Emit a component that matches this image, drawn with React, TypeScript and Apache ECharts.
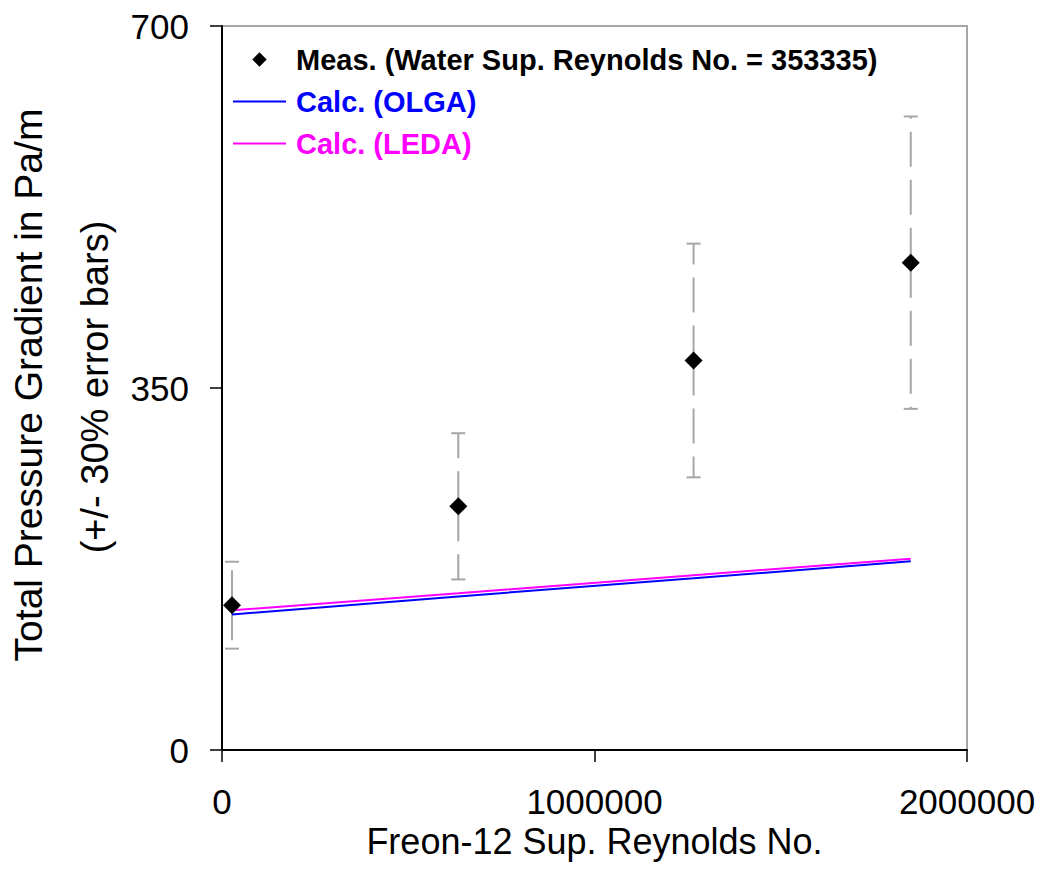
import { useEffect, useRef } from "react";
import * as echarts from "echarts";

// Freon-12 superficial Reynolds numbers of the measured / calculated cases
const reynoldsFreon = [26900, 634400, 1266000, 1849000];
// Measured total pressure gradient (Pa/m)
const measured = [140, 235.6, 376.6, 471.2];
// Calculated pressure gradient (Pa/m)
const calcOlga = [131, 148.5, 166, 182.5];
const calcLeda = [135, 151.5, 169, 185];
// Relative size of the error bars
const errorFraction = 0.3;

const xAxisMax = 2000000;
const xAxisStep = 1000000;
const yAxisMax = 700;
const yAxisStep = 350;

const seriesNames = [
  "Meas. (Water Sup. Reynolds No. = 353335)",
  "Calc. (OLGA)",
  "Calc. (LEDA)",
];
const xTitle = "Freon-12 Sup. Reynolds No.";
const yTitleLines = ["Total Pressure Gradient in Pa/m", "(+/- 30% error bars)"];

const FONT = "'Liberation Sans', Arial, Helvetica, sans-serif";
const ERR_COLOR = "#a6a6a6";

export default function App() {
  const ref = useRef<HTMLDivElement>(null);

  useEffect(() => {
    if (!ref.current) return;
    const chart = echarts.init(ref.current, undefined, { renderer: "svg" });

    const pairs = (ys: number[]) => reynoldsFreon.map((x, i) => [x, ys[i]]);

    const option: any = {
      animation: false,
      backgroundColor: "#ffffff",
      grid: {
        left: 222,
        right: 83,
        top: 26,
        bottom: 138,
        show: true,
        borderColor: ERR_COLOR,
        borderWidth: 2,
        backgroundColor: "transparent",
      },
      legend: {
        orient: "vertical",
        left: 232,
        top: 45,
        padding: 0,
        itemWidth: 53,
        itemHeight: 18,
        itemGap: 13,
        selectedMode: false,
        textStyle: {
          fontFamily: FONT,
          fontSize: 29,
          fontWeight: "bold",
          lineHeight: 29,
          padding: [0, 0, 0, 5],
        },
        data: [
          { name: seriesNames[0], textStyle: { color: "#000000" } },
          { name: seriesNames[1], textStyle: { color: "#0000ff" }, itemStyle: { opacity: 0 } },
          { name: seriesNames[2], textStyle: { color: "#ff00ff" }, itemStyle: { opacity: 0 } },
        ],
      },
      xAxis: {
        type: "value",
        min: 0,
        max: xAxisMax,
        interval: xAxisStep,
        name: xTitle,
        nameLocation: "middle",
        nameGap: 91,
        nameMoveOverlap: false,
        nameTextStyle: {
          fontFamily: FONT,
          fontSize: 36,
          lineHeight: 30,
          color: "#000",
          verticalAlign: "middle",
        },
        axisLine: { show: true, onZero: false, lineStyle: { color: "#000", width: 2 } },
        axisTick: { show: true, inside: false, length: 12, lineStyle: { color: "#000", width: 1.5 } },
        axisLabel: {
          fontFamily: FONT,
          fontSize: 35,
          lineHeight: 30,
          color: "#000",
          margin: 36,
          formatter: (v: number) => String(v),
        },
        splitLine: { show: false },
      },
      yAxis: {
        type: "value",
        min: 0,
        max: yAxisMax,
        interval: yAxisStep,
        axisLine: { show: true, onZero: false, lineStyle: { color: "#000", width: 2 } },
        axisTick: { show: true, inside: false, length: 12, lineStyle: { color: "#000", width: 1.5 } },
        axisLabel: { fontFamily: FONT, fontSize: 35, color: "#000", margin: 33 },
        splitLine: { show: false },
      },
      graphic: [
        {
          type: "text",
          x: 28,
          y: 385,
          rotation: Math.PI / 2,
          style: {
            text: yTitleLines[0],
            fontFamily: FONT,
            fontSize: 39,
            fill: "#000",
            align: "center",
            verticalAlign: "middle",
          },
        },
        {
          type: "text",
          x: 95,
          y: 387,
          rotation: Math.PI / 2,
          style: {
            text: yTitleLines[1],
            fontFamily: FONT,
            fontSize: 38,
            fill: "#000",
            align: "center",
            verticalAlign: "middle",
          },
        },
      ],
      series: [
        {
          // +/- error bars, dashed outward from each measured point
          type: "custom",
          z: 1,
          silent: true,
          data: pairs(measured),
          encode: { x: 0, y: 1 },
          renderItem: (_params: any, api: any) => {
            const x = api.value(0);
            const y = api.value(1);
            const c = api.coord([x, y]);
            const hi = api.coord([x, y * (1 + errorFraction)]);
            const lo = api.coord([x, y * (1 - errorFraction)]);
            const dashed = { stroke: ERR_COLOR, lineWidth: 2, lineDash: [35, 13], fill: null };
            const solid = { stroke: ERR_COLOR, lineWidth: 2, fill: null };
            const cap = 7;
            return {
              type: "group",
              children: [
                { type: "line", shape: { x1: c[0], y1: c[1], x2: hi[0], y2: hi[1] }, style: dashed },
                { type: "line", shape: { x1: c[0], y1: c[1], x2: lo[0], y2: lo[1] }, style: dashed },
                { type: "line", shape: { x1: hi[0] - cap, y1: hi[1], x2: hi[0] + cap, y2: hi[1] }, style: solid },
                { type: "line", shape: { x1: lo[0] - cap, y1: lo[1], x2: lo[0] + cap, y2: lo[1] }, style: solid },
              ],
            };
          },
        },
        {
          name: seriesNames[1],
          type: "line",
          z: 3,
          data: pairs(calcOlga),
          symbol: "none",
          lineStyle: { color: "#0000ff", width: 2 },
          itemStyle: { color: "#0000ff" },
        },
        {
          name: seriesNames[2],
          type: "line",
          z: 3,
          data: pairs(calcLeda),
          symbol: "none",
          lineStyle: { color: "#ff00ff", width: 2 },
          itemStyle: { color: "#ff00ff" },
        },
        {
          name: seriesNames[0],
          type: "line",
          z: 5,
          data: pairs(measured),
          symbol: "diamond",
          symbolSize: 18,
          showSymbol: true,
          showAllSymbol: true,
          lineStyle: { width: 0, opacity: 0 },
          itemStyle: { color: "#000000" },
        },
      ],
    };

    chart.setOption(option);
    return () => chart.dispose();
  }, []);

  return (
    <div
      ref={ref}
      style={{ position: "fixed", left: 0, top: 0, width: 1050, height: 888, background: "#fff" }}
    />
  );
}
